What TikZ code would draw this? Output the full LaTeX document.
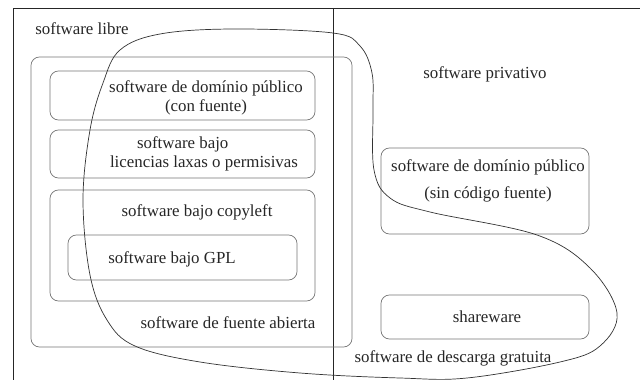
\documentclass[tikz,border=0pt]{standalone}
\usepackage{fontspec}
\setmainfont{Liberation Serif}
\usepackage{tikz}
\usetikzlibrary{calc}

\begin{document}
\begin{tikzpicture}[x=0.025cm,y=-0.025cm,
  area/.style={draw=black!55,rounded corners=6pt,line width=0.5pt},
  lbl/.style={inner sep=0pt,font=\fontsize{12}{14}\selectfont,text=black!85},
  frame/.style={draw=black!85,line width=0.6pt}]
\useasboundingbox (0,0) rectangle (640,380);
% frame
\draw[frame] (13,380) -- (13,8) -- (640,8);
\draw[frame] (333,8) -- (333,380);
% libre side
\draw[area] (31,57) rectangle (352,347);
\draw[area] (50,71) rectangle (315,120);
\draw[area] (50,130) rectangle (315,178);
\draw[area] (50,190) rectangle (315,301);
\draw[area] (68,235) rectangle (297,280);
% privativo side
\draw[area] (381,148) rectangle (589,234);
\draw[area] (381,295) rectangle (589,339);
% gratuito
\draw[black!80,line width=0.5pt] plot[smooth cycle,tension=0.6] coordinates {
  (233,29) (333,33) (360,46) (372,73) (373,110) (374,170) (390,198)
  (430,212) (537,235) (590,268) (617,313) (600,346) (560,362) (467,378)
  (400,378) (300,373) (200,362) (135,346) (107,320) (90,275) (83,200)
  (90,130) (103,83) (120,50) (160,34)};
\node[lbl] (libre) at (82,29) {software libre};
\node[lbl,align=center] (pubsrc) at (206,98) {software de domínio público\\(con fuente)};
\node[lbl,align=left] (laxas) at (204,154) {\hspace*{1.6em}software bajo\\licencias laxas o permisivas};
\node[lbl] (copyleft) at (197,212) {software bajo copyleft};
\node[lbl] (gpl) at (172,259) {software bajo GPL};
\node[lbl] (fuente) at (228,323) {software de fuente abierta};
\node[lbl] (privativo) at (485,74) {software privativo};
\node[lbl,align=center] (pubbin) at (488,181) {software de domínio público\\[5pt](sin código fuente)};
\node[lbl] (shareware) at (487,317) {shareware};
\node[lbl] (descarga) at (453,358) {software de descarga gratuita};
\end{tikzpicture}
\end{document}
